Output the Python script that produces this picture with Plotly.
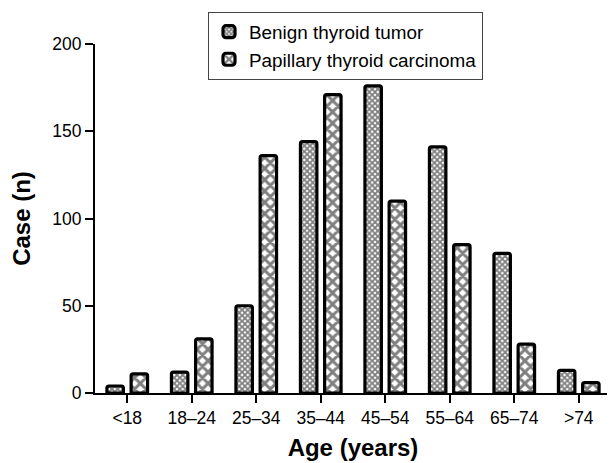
import plotly.graph_objects as go

categories = ["<18", "18–24", "25–34", "35–44", "45–54", "55–64", "65–74", ">74"]
benign = [4, 12, 50, 144, 176, 141, 80, 13]
papillary = [11, 31, 136, 171, 110, 85, 28, 6]
y_ticks = [0, 50, 100, 150, 200]

fig = go.Figure()
fig.add_trace(go.Bar(
    x=categories, y=benign, name="Benign thyroid tumor",
    marker=dict(color="white", line=dict(color="black", width=3.2), cornerradius=2,
                pattern=dict(shape="x", size=4, solidity=0.7, fgcolor="black", bgcolor="white")),
))
fig.add_trace(go.Bar(
    x=categories, y=papillary, name="Papillary thyroid carcinoma",
    marker=dict(color="white", line=dict(color="black", width=3.2), cornerradius=2,
                pattern=dict(shape="x", size=8, solidity=0.6, fgcolor="black", bgcolor="white")),
))

fig.update_layout(
    width=607, height=455,
    margin=dict(l=87, r=4, t=36, b=70),
    plot_bgcolor="white", paper_bgcolor="white",
    barmode="group", bargap=0.25, bargroupgap=0.32,
    font=dict(family="Liberation Sans, Arial, sans-serif", size=17.5, color="black"),
    legend=dict(x=0.219, y=1.092, xanchor="left", yanchor="top",
                bordercolor="#444", borderwidth=1, bgcolor="white",
                font=dict(size=18.9), tracegroupgap=0),
    xaxis=dict(
        title=dict(text="<b>Age (years)</b>", font=dict(size=24), standoff=12),
        showline=True, linecolor="black", linewidth=2,
        ticks="outside", ticklen=8, tickwidth=2, tickcolor="black",
        showgrid=False, zeroline=False, range=[-0.5, 7.5],
    ),
    yaxis=dict(
        title=dict(text="<b>Case (n)</b>", font=dict(size=24), standoff=20),
        showline=True, linecolor="black", linewidth=2,
        ticks="outside", ticklen=8, tickwidth=2, tickcolor="black",
        tickvals=y_ticks, range=[0, 200],
        showgrid=False, zeroline=False,
    ),
)

fig.write_html("out.html")
